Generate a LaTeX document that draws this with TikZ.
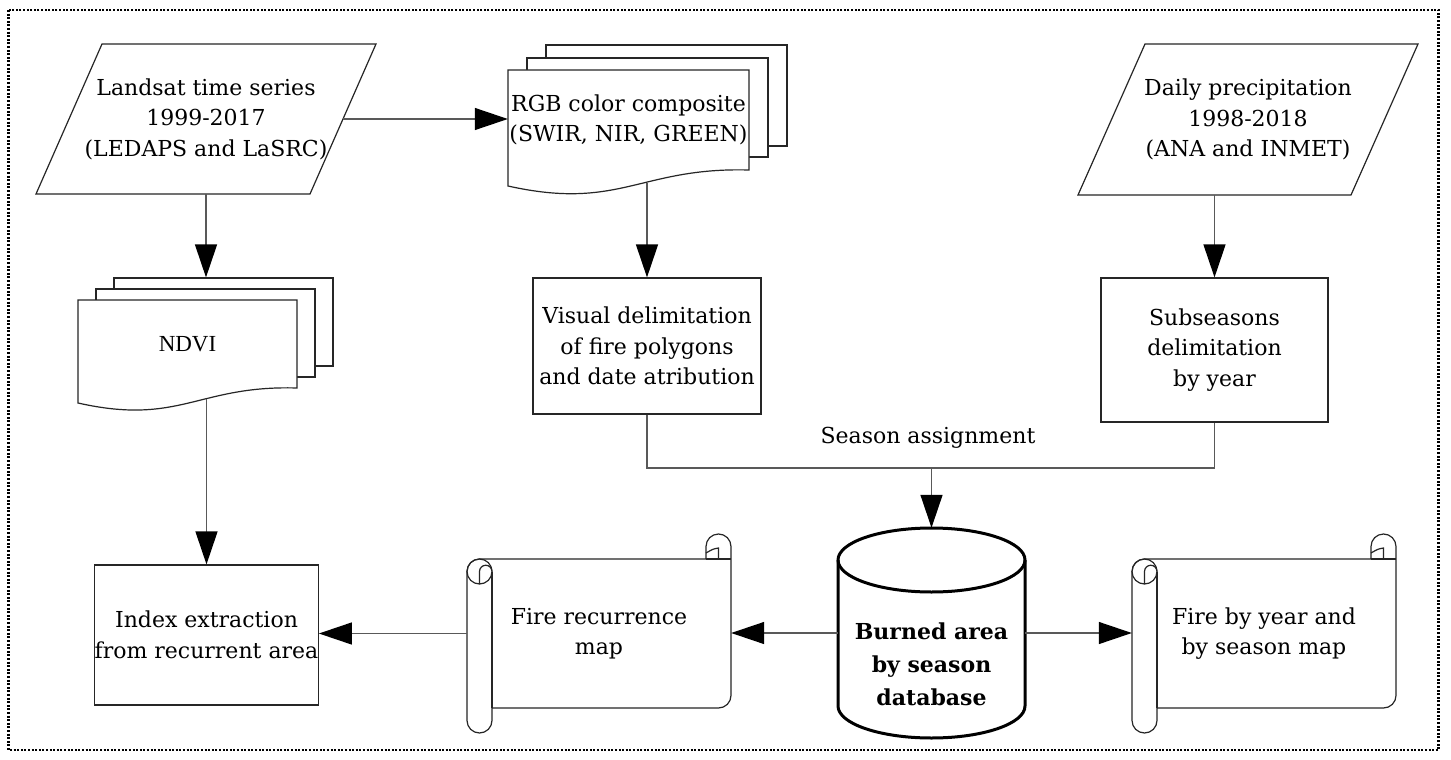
\documentclass[tikz,border=0pt]{standalone}
\usepackage{fontspec}
\setmainfont{DejaVu Serif}
\newfontfamily\timesfont{Liberation Serif}
\usetikzlibrary{arrows.meta,calc}

% scroll outline: #1 = left, #2 = top of sheet, #3 = right, #4 = bottom of sheet
\newcommand{\drawscroll}[4]{%
  \path[outline, fill=white] ({#1},{#2+12.5}) arc[start angle=180,end angle=270,radius=12.5]
    -- ({#3-25},{#2}) -- ({#3-25},{#2-12.5}) arc[start angle=180,end angle=360,radius=12.5]
    -- ({#3},{#4-12.5}) arc[start angle=0,end angle=90,radius=12.5]
    -- ({#1+25},{#4}) -- ({#1+25},{#4+12.5}) arc[start angle=0,end angle=180,radius=12.5]
    -- cycle;
  \draw[outline] ({#1+25},{#2+12.5}) -- ({#1+25},{#4});
  \draw[outline] ({#1+12.5},{#2+12.5}) circle[radius=12.5];
  \draw[outline] ({#1+12.5},{#2+25}) -- ({#1+12.5},{#2+12.5}) arc[start angle=180,end angle=360,radius=6.25];
  \draw[outline] ({#3-25},{#2}) -- ({#3},{#2});
  \draw[outline] ({#3-12.5},{#2}) -- ({#3-12.5},{#2-11}) .. controls ({#3-18},{#2-10}) .. ({#3-25},{#2-6});
}

\begin{document}
\begin{tikzpicture}[x=1pt,y=-1pt,
  txt/.style={font=\fontsize{22}{30.5}\selectfont, align=center, inner sep=0pt},
  outline/.style={draw=black!85, line width=1.2pt},
  layer/.style={outline, fill=white, inner sep=0pt},
  conn/.style={draw=black!65, line width=1.3pt},
  arrow/.style={conn, -{Triangle[length=33pt,width=22pt,color=black]}},
  dbline/.style={draw=black, line width=3pt},
  dbtxt/.style={font=\bfseries\fontsize{22}{33}\selectfont, align=center, inner sep=0pt}]

\useasboundingbox (0,0) rectangle (1451,760);
\fill[white] (0,0) rectangle (1451,760);
\draw[line width=2.6pt, dash pattern=on 2pt off 1.6pt] (8.5,10) rectangle (1438.5,750);

% input parallelograms
\draw[outline, fill=white] (36,194) -- (310,194) -- (376,44) -- (102,44) -- cycle;
\node[txt, minimum width=274pt, minimum height=150pt] (landsat) at (206,119)
  {Landsat time series\\1999-2017\\(LEDAPS and LaSRC)};

\draw[outline, fill=white] (1078,195) -- (1351,195) -- (1418,44) -- (1145,44) -- cycle;
\node[txt, minimum width=273pt, minimum height=151pt] (precip) at (1248,119.5)
  {Daily precipitation\\1998-2018\\(ANA and INMET)};

% RGB multi-document
\node[layer, minimum width=241pt, minimum height=101pt] (rgbb2) at (666.5,95.5) {};
\node[layer, minimum width=241pt, minimum height=99pt] (rgbb1) at (647.5,107.5) {};
\path[outline, fill=white] (508,70) -- (749,70) -- (749,170)
  .. controls (640,167) and (620,211) .. (508,186) -- cycle;
\node[txt, minimum width=241pt, minimum height=100pt] (rgb) at (628.5,120)
  {RGB color composite\\(SWIR, NIR, GREEN)};

% NDVI multi-document
\node[layer, minimum width=219pt, minimum height=88pt] (ndvib2) at (223.5,322) {};
\node[layer, minimum width=219pt, minimum height=88pt] (ndvib1) at (205.5,333) {};
\path[outline, fill=white] (78,300) -- (297,300) -- (297,388)
  .. controls (198,385) and (180,426) .. (78,403) -- cycle;
\node[txt, font=\timesfont\fontsize{23}{30}\selectfont, minimum width=219pt, minimum height=88pt] (ndvi) at (187.5,344) {NDVI};

% process boxes
\node[txt, outline, fill=white, minimum width=228pt, minimum height=136pt] (visual) at (647,346)
  {Visual delimitation\\of fire polygons\\and date atribution};
\node[txt, outline, fill=white, minimum width=227pt, minimum height=144pt] (sub) at (1214.5,350)
  {Subseasons\\delimitation\\by year};
\node[txt, outline, fill=white, minimum width=223pt, minimum height=140pt] (index) at (206.5,635)
  {Index extraction\\from recurrent area};

% map scrolls
\drawscroll{467}{559}{731}{708}
\node[txt, minimum width=264pt, minimum height=149pt] (frec) at (599,633.5)
  {Fire recurrence\\map};
\drawscroll{1132}{559}{1396}{708}
\node[txt, minimum width=264pt, minimum height=149pt] (fyear) at (1264,633.5)
  {Fire by year and\\by season map};

% database cylinder
\path[dbline, fill=white] (838,560) -- (838,706)
  arc[start angle=180,end angle=0,x radius=93.5,y radius=32] -- (1025,560)
  arc[start angle=0,end angle=-180,x radius=93.5,y radius=32] -- cycle;
\draw[dbline] (838,560) arc[start angle=180,end angle=0,x radius=93.5,y radius=32];
\node[minimum width=187pt, minimum height=210pt, inner sep=0pt] (db) at (931.5,633) {};
\node[dbtxt] (dbtext) at (931.5,664) {Burned area\\by season\\database};

% season assignment junction
\coordinate (season) at (931.5,468);
\node[txt] (seasonlbl) at (928,438) {Season assignment};

% connectors
\draw[arrow] (landsat.east) -- (landsat.east -| rgb.west);
\draw[arrow] (landsat.south) -- (landsat.south |- ndvib2.north);
\draw[arrow] ($(rgb.south -| visual.north)+(0,13)$) -- (visual.north);
\draw[arrow] (precip.south -| sub.north) -- (sub.north);
\draw[arrow] ($(ndvi.south -| index.north)+(0,11)$) -- (index.north);
\draw[conn] (visual.south) |- (season) -| (sub.south);
\draw[arrow] (season) -- (db.north);
\draw[arrow] (db.west) -- (db.west -| frec.east);
\draw[arrow] (frec.west) -- (frec.west -| index.east);
\draw[arrow] (db.east) -- (db.east -| fyear.west);
\end{tikzpicture}
\end{document}
